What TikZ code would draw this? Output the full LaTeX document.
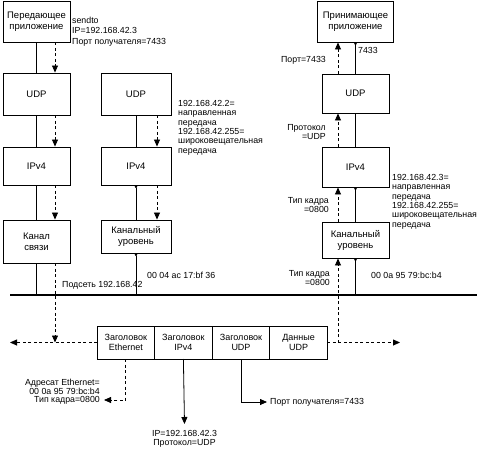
\documentclass[tikz,border=0pt]{standalone}
\usepackage{fontspec}
\setmainfont{Liberation Sans}
\usetikzlibrary{arrows.meta,positioning}

\tikzset{
  layer/.style={draw, line width=.9pt, align=center, inner sep=0pt, minimum width=67pt, font=\fontsize{9.5}{11}\selectfont},
  field/.style={draw, line width=.9pt, align=center, inner sep=0pt, outer sep=0pt, minimum width=57.6pt, minimum height=33pt, font=\fontsize{9}{10.5}\selectfont},
  note/.style={inner sep=0pt, font=\fontsize{8.8}{9.4}\selectfont},
  wire/.style={line width=.8pt},
  tip/.style={-{Triangle[length=7pt,width=6pt]}},
  dot/.style={{Circle[length=2.6pt]}-},
  flow/.style={line width=.8pt, dash pattern=on 3pt off 2.5pt, tip},
}

\begin{document}
\begin{tikzpicture}[x=1pt, y=-1pt]
  \useasboundingbox (0,0) rectangle (485,452);
  % sending host
  \node[layer, minimum height=41pt] (sndApp) at (36.5,21.5) {Передающее\\приложение};
  \node[layer, minimum height=42pt] (udpL) at (36.5,94) {UDP};
  \node[layer, minimum height=38pt] (ipL) at (36.5,166) {IPv4};
  \node[layer, minimum height=43pt] (linkL) at (36.5,241.5) {Канал\\связи};
  % middle host
  \node[layer, minimum width=70pt, minimum height=42pt] (udpM) at (136,94) {UDP};
  \node[layer, minimum width=70pt, minimum height=38pt] (ipM) at (136,166) {IPv4};
  \node[layer, minimum width=70pt, minimum height=33pt] (linkM) at (136,236.5) {Канальный\\уровень};
  % receiving host
  \node[layer, minimum width=76pt, minimum height=41pt] (rcvApp) at (355.5,21.5) {Принимающее\\приложение};
  \node[layer, minimum height=39pt] (udpR) at (355.5,93.5) {UDP};
  \node[layer, minimum height=40pt] (ipR) at (355.5,167) {IPv4};
  \node[layer, minimum height=36pt] (linkR) at (355.5,240) {Канальный\\уровень};

  % subnet
  \coordinate (netL) at (10,295);
  \coordinate (netR) at (477,295);
  \draw[line width=2.2pt] (netL) -- (netR);
  \node[note, anchor=west] (subnet) at (62,285) {Подсеть 192.168.42};
  \node[note, anchor=west] (macM) at (147,275) {00 04 ac 17:bf 36};
  \node[note, anchor=west] (macR) at (371,275) {00 0a 95 79:bc:b4};
  \node[note, align=right, anchor=north east] (typeNet) at (330,270) {Тип кадра\\=0800};

  % frame
  \node[field] (hEth) at (125.8,342.5) {Заголовок\\Ethernet};
  \node[field, right=0pt of hEth] (hIP) {Заголовок\\IPv4};
  \node[field, right=0pt of hIP] (hUDP) {Заголовок\\UDP};
  \node[field, right=0pt of hUDP] (hDat) {Данные\\UDP};
  \coordinate (outL) at (10,342.5);
  \coordinate (outR) at (400,342.5);

  % solid links
  \draw[wire] (sndApp) -- (udpL);
  \draw[wire] (udpL) -- (ipL);
  \draw[wire] (ipL) -- (linkL);
  \draw[wire] (linkL.south) -- (linkL.south |- netL);
  \draw[wire] (udpM) -- (ipM);
  \draw[wire, dot] (ipM.south) -- (linkM.north);
  \draw[wire, dot] (linkM.south) -- (linkM.south |- netL);
  \draw[wire, dot] (rcvApp.south) -- (udpR.north);
  \draw[wire] (udpR) -- (ipR);
  \draw[wire, dot] (ipR.south) -- (linkR.north);
  \draw[wire, dot] (linkR.south) -- (linkR.south |- netL);

  % data path
  \draw[flow] ([xshift=18.5pt]sndApp.south) -- ([xshift=18.5pt]udpL.north);
  \draw[flow] ([xshift=18.5pt]udpL.south) -- ([xshift=18.5pt]ipL.north);
  \draw[flow] ([xshift=18.5pt]ipL.south) -- ([xshift=18.5pt]linkL.north);
  \draw[flow] ([xshift=18.5pt]linkL.south) -- ([xshift=18.5pt]linkL.south |- hEth.west);
  \draw[flow] (hEth.west) -- (outL);
  \draw[flow] (hDat.east) -- (outR);
  \draw[flow] ([xshift=21pt]udpM.south) -- ([xshift=21pt]ipM.north);
  \draw[flow] ([xshift=21pt]ipM.south) -- ([xshift=21pt]linkM.north);
  \draw[flow] ([xshift=-17.5pt]linkR.south |- outR) -- ([xshift=-17.5pt]linkR.south);
  \draw[flow] ([xshift=-17.5pt]linkR.north) -- ([xshift=-17.5pt]ipR.south);
  \draw[flow] ([xshift=-17.5pt]ipR.north) -- ([xshift=-17.5pt]udpR.south);
  \draw[flow] ([xshift=-17.5pt]udpR.north) -- ([xshift=-17.5pt]rcvApp.south);

  % labels
  \node[note, align=left, anchor=north west] (sendNote) at (72,17) {sendto\\[1pt]IP=192.168.42.3\\[1pt]Порт получателя=7433};
  \node[note, align=left, anchor=north west] (castM) at (178,100) {192.168.42.2=\\направленная\\передача\\192.168.42.255=\\широковещательная\\передача};
  \node[note, align=left, anchor=north west] (castR) at (392,174) {192.168.42.3=\\направленная\\передача\\192.168.42.255=\\широковещательная\\передача};
  \node[note, anchor=east] (portR) at (326,60) {Порт=7433};
  \node[note, anchor=west] (portApp) at (358,50) {7433};
  \node[note, align=right, anchor=north east] (protoR) at (326,124) {Протокол\\=UDP};
  \node[note, align=right, anchor=north east] (typeR) at (329,197) {Тип кадра\\=0800};

  % frame fields
  \node[note, anchor=east] (ethType) at (100,400) {Тип кадра=0800};
  \node[note, align=right, anchor=south east] (ethAddr) at ([yshift=1pt]ethType.north east) {Адресат Ethernet=\\00 0a 95 79:bc:b4};
  \node[note, align=center, anchor=north] (ipInfo) at (184.5,430) {IP=192.168.42.3\\Протокол=UDP};
  \node[note, anchor=west] (portInfo) at (270,402) {Порт получателя=7433};
  \draw[flow, shorten >=4pt] (hEth.south) |- (ethType.east);
  \draw[wire, tip] (hIP.south) -- ([yshift=6pt]ipInfo.north);
  \draw[wire, tip, shorten >=3pt] (hUDP.south) |- (portInfo.west);
\end{tikzpicture}
\end{document}
